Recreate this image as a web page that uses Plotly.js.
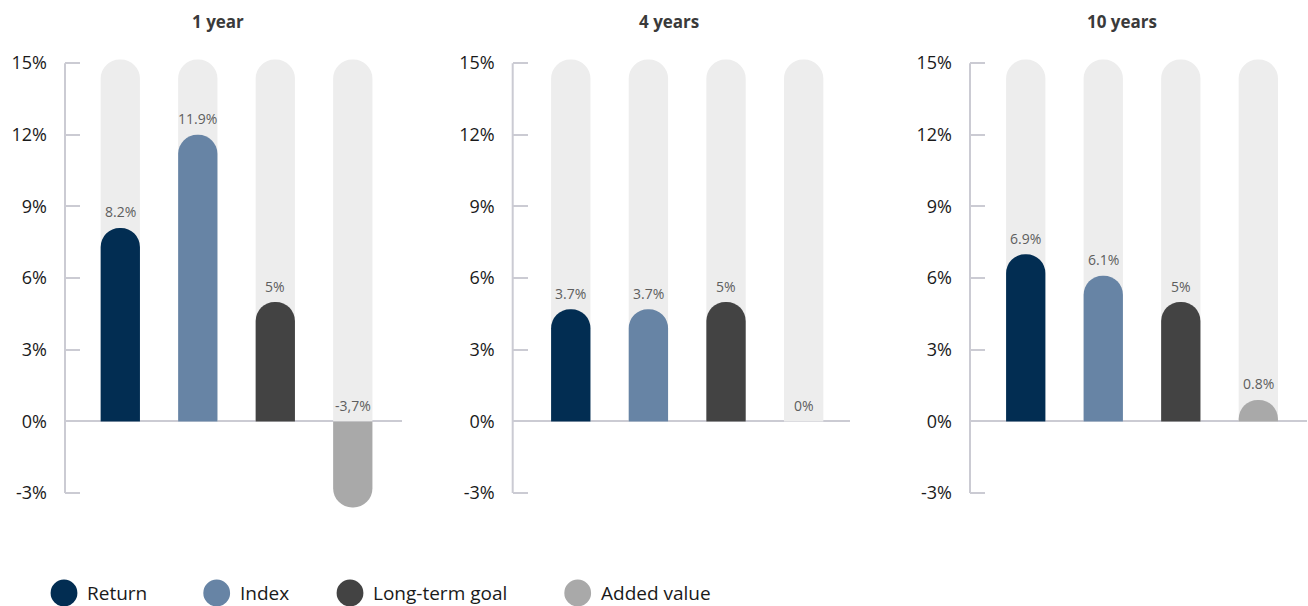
<!DOCTYPE html>
<html><head><meta charset="utf-8">
<script src="https://cdn.plot.ly/plotly-3.0.1.min.js"></script>
<style>html,body{margin:0;padding:0;background:#fff}#chart{width:1308px;height:606px}</style>
</head><body><div id="chart"></div>
<script>
// ---- data ----
const categories = ['Return', 'Index', 'Long-term goal', 'Added value'];
const periods = ['1 year', '4 years', '10 years'];
const values1y = [8.1, 12.0, 5.0, -3.6];
const values4y = [4.7, 4.7, 5.0, 0];
const values10y = [7.0, 6.1, 5.0, 0.9];
const labels1y = ['8.2%', '11.9%', '5%', '-3,7%'];
const labels4y = ['3.7%', '3.7%', '5%', '0%'];
const labels10y = ['6.9%', '6.1%', '5%', '0.8%'];
const trackValues = [15.15, 15.15, 15.15, 15.15];
const yTickVals = [-3, 0, 3, 6, 9, 12, 15];
const yTickText = ['-3%', '0%', '3%', '6%', '9%', '12%', '15%'];

// ---- styles / layout ----
const seriesColors = ['#022d52', '#6784a5', '#434343', '#a9a9a9'];
const trackColor = '#ededed';
const axisColor = '#cbcbd3';
const W = 1308, H = 606, MT = 56, MB = 95;
const plotH = H - MT - MB;
const FONT = 'Open Sans, Noto Sans, sans-serif';
const panelDomains = [[65, 402], [512.7, 850], [970, 1307]];
const panelRanges = [[-0.7135, 3.635], [-0.748, 3.597], [-0.719, 3.628]];
const yRange = [-3.75, 15.3];
const titleX = [217.5, 668.7, 1122];
const legendX = [64, 216.7, 350, 577.7];
const legendY = 593;
const barWidth = 0.507;

const allValues = [values1y, values4y, values10y];
const allLabels = [labels1y, labels4y, labels10y];
const py = (Y) => (H - MB - Y) / plotH;

const traces = [];
const annotations = [];
const shapes = [];
const layout = {
  width: W, height: H,
  margin: {l: 0, r: 0, t: MT, b: MB},
  paper_bgcolor: '#fff', plot_bgcolor: 'rgba(0,0,0,0)',
  barmode: 'overlay',
  showlegend: false,
  font: {family: FONT, color: '#1a1a1a'},
};

for (let p = 0; p < 3; p++) {
  const s = p === 0 ? '' : String(p + 1);
  const so = String(p + 4);
  const xa = 'x' + s, ya = 'y' + s;
  const xo = 'x' + so, yo = 'y' + so;
  // grey tracks on the base subplot
  traces.push({
    type: 'bar', x: categories, y: trackValues, xaxis: xa, yaxis: ya,
    width: barWidth,
    marker: {color: trackColor, cornerradius: '50%', line: {width: 0}},
    hoverinfo: 'skip'
  });
  // values on an overlaying subplot so each bar gets its own rounded end
  traces.push({
    type: 'bar', x: categories, y: allValues[p], xaxis: xo, yaxis: yo,
    width: barWidth,
    marker: {color: seriesColors, cornerradius: '50%', line: {width: 0}},
    hoverinfo: 'skip'
  });
  layout['xaxis' + s] = {
    domain: [panelDomains[p][0] / W, panelDomains[p][1] / W],
    range: panelRanges[p], type: 'category', anchor: ya,
    showticklabels: false, showgrid: false, zeroline: false, showline: false, ticks: '',
    fixedrange: true
  };
  layout['yaxis' + s] = {
    domain: [0, 1], range: yRange, anchor: xa,
    tickvals: yTickVals, ticktext: yTickText,
    ticks: 'inside', ticklen: 15, tickwidth: 2, tickcolor: axisColor,
    ticklabelstandoff: 17,
    tickfont: {family: FONT, size: 18, color: '#1a1a1a'},
    showgrid: false, showline: false,
    zeroline: true, zerolinecolor: axisColor, zerolinewidth: 2,
    fixedrange: true
  };
  layout['xaxis' + so] = {
    overlaying: xa, anchor: yo,
    range: panelRanges[p], type: 'category',
    visible: false, showgrid: false, zeroline: false, fixedrange: true
  };
  layout['yaxis' + so] = {
    overlaying: ya, anchor: xo,
    range: yRange, visible: false, showgrid: false, zeroline: false, fixedrange: true
  };
  shapes.push({
    type: 'line', xref: xa + ' domain', yref: ya, x0: 0, x1: 0, y0: -3, y1: 15,
    line: {color: axisColor, width: 2}, layer: 'below'
  });
  annotations.push({
    xref: 'paper', yref: 'paper', x: titleX[p] / W, y: py(21),
    xanchor: 'center', yanchor: 'middle', showarrow: false,
    text: '<b>' + periods[p] + '</b>',
    font: {family: FONT, size: 17, color: '#3a3a3a', weight: 800}
  });
  categories.forEach((c, i) => {
    annotations.push({
      xref: xa, yref: ya, x: c, y: Math.max(allValues[p][i], 0),
      xanchor: 'center', yanchor: 'bottom', yshift: 4.5, showarrow: false,
      text: allLabels[p][i],
      font: {family: FONT, size: 14, color: '#5e5e5e'}
    });
  });
}

// legend built from categories / colors
categories.forEach((c, i) => {
  shapes.push({
    type: 'circle', xref: 'paper', yref: 'paper',
    xsizemode: 'pixel', ysizemode: 'pixel',
    xanchor: legendX[i] / W, yanchor: py(legendY),
    x0: -13.4, x1: 13.4, y0: -13.4, y1: 13.4,
    fillcolor: seriesColors[i], line: {width: 0}
  });
  annotations.push({
    xref: 'paper', yref: 'paper', x: (legendX[i] + 21) / W, y: py(legendY),
    xanchor: 'left', yanchor: 'middle', showarrow: false,
    text: c, font: {family: FONT, size: 19, color: '#1a1a1a'}
  });
});

layout.shapes = shapes;
layout.annotations = annotations;
Plotly.newPlot('chart', traces, layout, {staticPlot: true, displayModeBar: false});
</script>
</body></html>
